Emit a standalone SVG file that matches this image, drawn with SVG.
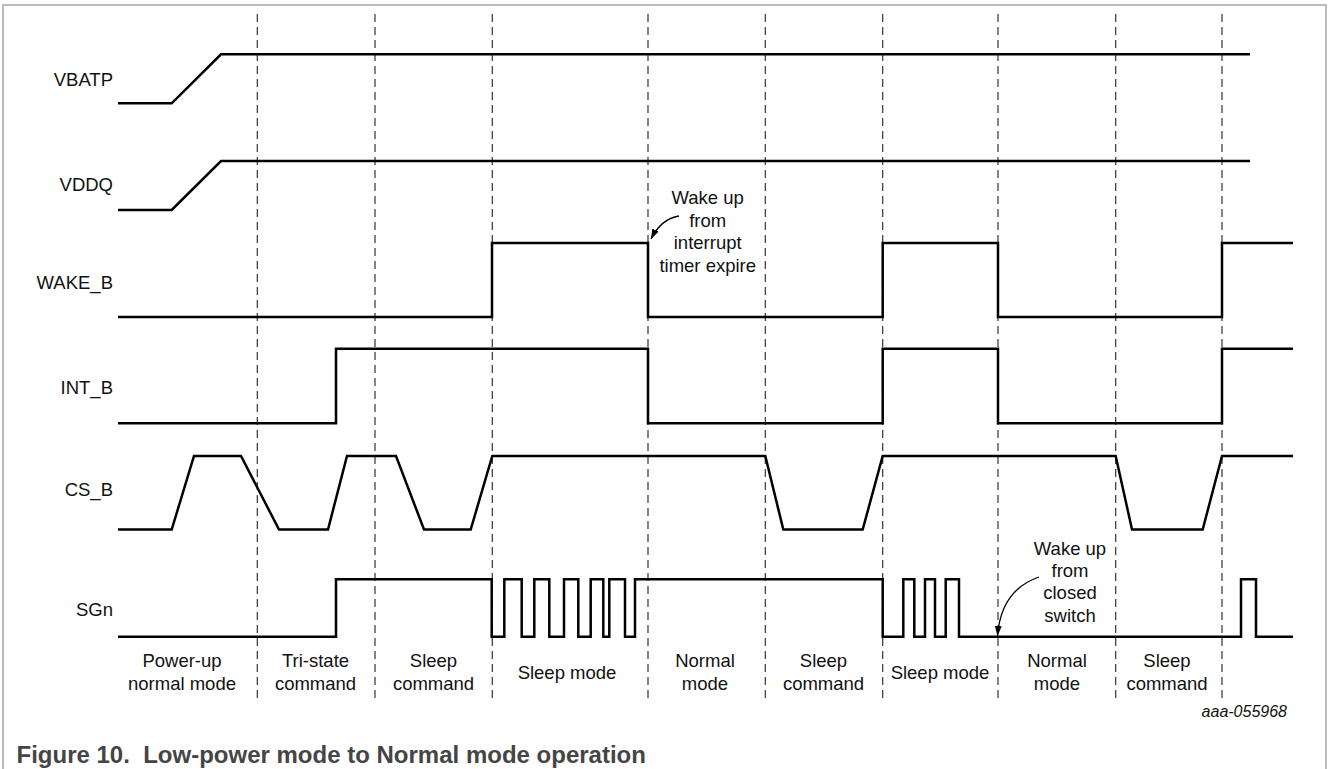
<svg xmlns="http://www.w3.org/2000/svg" width="1329" height="769" viewBox="0 0 1329 769">
<style>
.sig{fill:none;stroke:#000;stroke-width:2.5;stroke-linejoin:miter}
.dash{fill:none;stroke:#333;stroke-width:1.2;stroke-dasharray:8 5}
.lbl{font-family:"Liberation Sans",Arial,sans-serif;font-size:18.5px;fill:#111;text-anchor:end}
.ph{font-family:"Liberation Sans",Arial,sans-serif;font-size:18.5px;fill:#111;text-anchor:middle}
.arr{fill:none;stroke:#000;stroke-width:1.3}
</style>
<defs>
<marker id="ah" markerUnits="userSpaceOnUse" markerWidth="11" markerHeight="8" refX="10" refY="3.5" orient="auto">
<path d="M0,0 L10,3.5 L0,7 z" fill="#000"/>
</marker>
</defs>
<rect width="1329" height="769" fill="#fff"/>
<path d="M3,769 V5 H1326 V769" fill="none" stroke="#a6a6a6" stroke-width="1.5"/>
<g id="grid">
<line class="dash" x1="257.3" y1="14" x2="257.3" y2="700"/>
<line class="dash" x1="375" y1="14" x2="375" y2="700"/>
<line class="dash" x1="492.3" y1="14" x2="492.3" y2="700"/>
<line class="dash" x1="648" y1="14" x2="648" y2="700"/>
<line class="dash" x1="765.3" y1="14" x2="765.3" y2="700"/>
<line class="dash" x1="882.7" y1="14" x2="882.7" y2="700"/>
<line class="dash" x1="998" y1="14" x2="998" y2="700"/>
<line class="dash" x1="1115.7" y1="14" x2="1115.7" y2="700"/>
<line class="dash" x1="1222" y1="14" x2="1222" y2="700"/>
</g>
<g id="VBATP">
<text class="lbl" x="113" y="86">VBATP</text>
<path class="sig" d="M118,103.3 H171.7 L221,54.3 H1250"/>
</g>
<g id="VDDQ">
<text class="lbl" x="113" y="191">VDDQ</text>
<path class="sig" d="M118,210 H171.7 L221,161 H1250"/>
</g>
<g id="WAKE_B">
<text class="lbl" x="113" y="289">WAKE_B</text>
<path class="sig" d="M118,317 H492 V243 H648 V317 H882.7 V243 H998 V317 H1222 V243 H1293"/>
</g>
<g id="INT_B">
<text class="lbl" x="113" y="394">INT_B</text>
<path class="sig" d="M118,423.3 H336 V348.7 H648 V423.3 H882.7 V348.7 H998 V423.3 H1222 V348.7 H1293"/>
</g>
<g id="CS_B">
<text class="lbl" x="113" y="495.7">CS_B</text>
<path class="sig" d="M118,529.5 H171.7 L194,456 H241 L279,529.5 H328 L347,456 H396 L424,529.5 H470.7 L492.3,456 H765.3 L783.3,529.5 H862.7 L882.7,456 H1115.7 L1132,529.5 H1202.7 L1222,456 H1293"/>
</g>
<g id="SGn">
<text class="lbl" x="113" y="616">SGn</text>
<path class="sig" d="M118,636.7 H336 V579.3 H491.7 V636.7 H504.3 V579.3 H521.7 V636.7 H534.3 V579.3 H549.3 V636.7 H564 V579.3 H578.3 V636.7 H590.7 V579.3 H603.3 V636.7 H609.3 V579.3 H625 V636.7 H635 V579.3 H882.7 V636.7 H903.3 V579.3 H914.3 V636.7 H925 V579.3 H935 V636.7 H945.7 V579.3 H959 V636.7 H1241 V579.3 H1256 V636.7 H1293"/>
</g>
<g id="note1">
<text class="ph" x="707.7" y="204">Wake up</text>
<text class="ph" x="707.7" y="226.7">from</text>
<text class="ph" x="707.7" y="249.3">interrupt</text>
<text class="ph" x="707.7" y="272">timer expire</text>
</g>
<g id="note2">
<text class="ph" x="1070" y="555">Wake up</text>
<text class="ph" x="1070" y="577.3">from</text>
<text class="ph" x="1070" y="599.3">closed</text>
<text class="ph" x="1070" y="621.7">switch</text>
</g>
<g id="connectors">
<path class="arr" d="M679,216 Q661,219 651,239" marker-end="url(#ah)"/>
<path class="arr" d="M1039,577 Q1001,590 997.5,636" marker-end="url(#ah)"/>
</g>
<g id="phases">
<text class="ph" x="182" y="667.3">Power-up</text>
<text class="ph" x="182" y="690">normal mode</text>
<text class="ph" x="315.5" y="667.3">Tri-state</text>
<text class="ph" x="315.5" y="690">command</text>
<text class="ph" x="433.5" y="667.3">Sleep</text>
<text class="ph" x="433.5" y="690">command</text>
<text class="ph" x="567" y="678.5">Sleep mode</text>
<text class="ph" x="705" y="667.3">Normal</text>
<text class="ph" x="705" y="690">mode</text>
<text class="ph" x="823.5" y="667.3">Sleep</text>
<text class="ph" x="823.5" y="690">command</text>
<text class="ph" x="940" y="678.5">Sleep mode</text>
<text class="ph" x="1057" y="667.3">Normal</text>
<text class="ph" x="1057" y="690">mode</text>
<text class="ph" x="1167" y="667.3">Sleep</text>
<text class="ph" x="1167" y="690">command</text>
</g>
<text x="1287" y="717" font-family="'Liberation Sans',Arial,sans-serif" font-size="16" font-style="italic" fill="#111" text-anchor="end">aaa-055968</text>
<text x="16.5" y="763" font-family="'Liberation Sans',Arial,sans-serif" font-size="24" font-weight="bold" fill="#454545" xml:space="preserve">Figure 10.  Low-power mode to Normal mode operation</text>
</svg>
